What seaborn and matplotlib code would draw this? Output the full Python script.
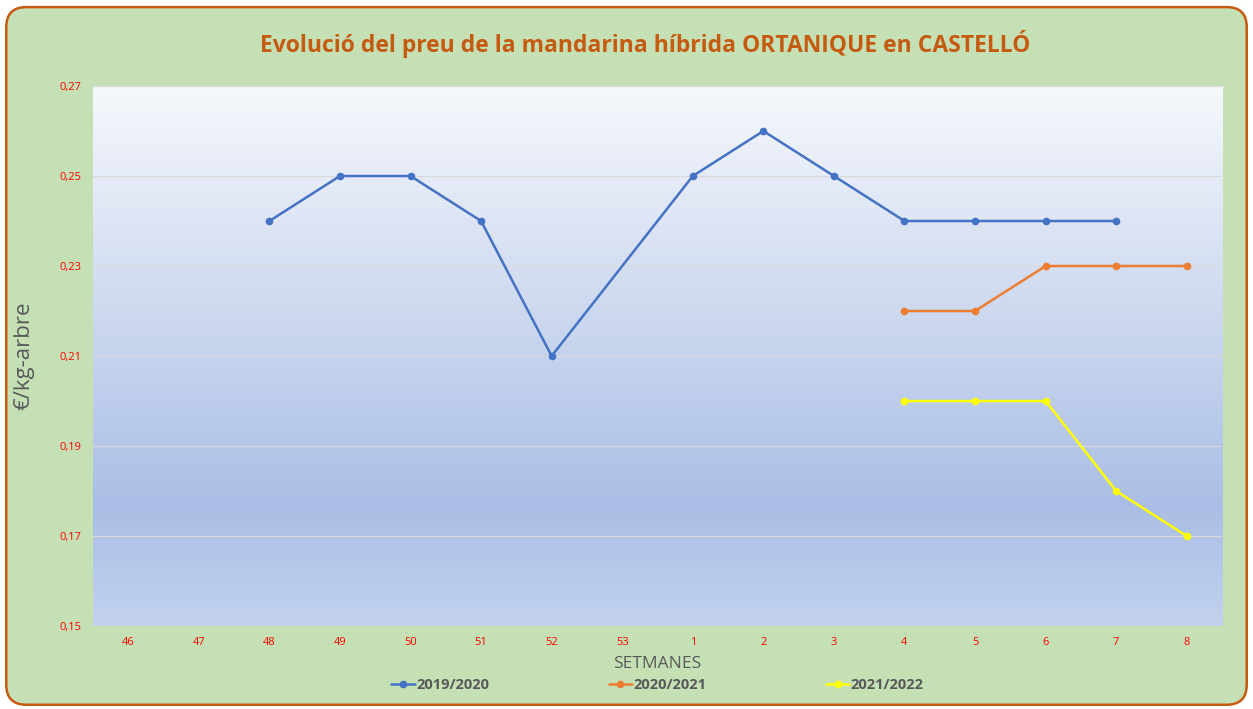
import numpy as np
import pandas as pd
import matplotlib
matplotlib.use('Agg')
import matplotlib.pyplot as plt
import seaborn as sns
from matplotlib.patches import FancyBboxPatch
from matplotlib.colors import LinearSegmentedColormap

# Data
weeks = ['46', '47', '48', '49', '50', '51', '52', '53', '1', '2', '3', '4', '5', '6', '7', '8']
s2019 = [np.nan, np.nan, 0.24, 0.25, 0.25, 0.24, 0.21, np.nan, 0.25, 0.26, 0.25, 0.24, 0.24, 0.24, 0.24, np.nan]
s2020 = [np.nan] * 11 + [0.22, 0.22, 0.23, 0.23, 0.23]
s2021 = [np.nan] * 11 + [0.20, 0.20, 0.20, 0.18, 0.17]
seasons = ['2019/2020', '2020/2021', '2021/2022']
colors = ['#4472C4', '#ED7D31', '#FFFF00']

df = pd.DataFrame({'pos': np.arange(len(weeks)), '2019/2020': s2019, '2020/2021': s2020, '2021/2022': s2021})
long_df = df.melt(id_vars='pos', var_name='season', value_name='price').dropna()

sns.set_style('white')
plt.rcParams['font.family'] = ['Open Sans', 'DejaVu Sans']

fig = plt.figure(figsize=(12.53, 7.09), dpi=100)
fig.patch.set_facecolor('white')
border = FancyBboxPatch((0.005, 0.006), 0.99, 0.984, boxstyle='round,pad=0,rounding_size=0.016',
                        transform=fig.transFigure, facecolor='#C5E0B4', edgecolor='#C55A11',
                        linewidth=1.8, mutation_aspect=1253 / 709, zorder=-10)
fig.patches.append(border)

ax = fig.add_axes([0.0742, 0.117, 0.9011, 0.7617])
ax.set_facecolor('none')

# background gradient of the plot area
grad_cmap = LinearSegmentedColormap.from_list('bg', [(0.0, '#F6F8FC'), (0.78, '#AABEE5'), (1.0, '#C2D2EE')])
grad = np.linspace(0, 1, 256).reshape(-1, 1)
ax.imshow(grad, aspect='auto', cmap=grad_cmap, extent=[-0.5, len(weeks) - 0.5, 0.15, 0.27],
          origin='upper', zorder=0)

sns.lineplot(data=long_df, x='pos', y='price', hue='season', hue_order=seasons,
             palette=colors, marker='o', markersize=5.5, markeredgewidth=0,
             linewidth=1.8, ax=ax, zorder=3)

ax.set_xlim(-0.5, len(weeks) - 0.5)
ax.set_ylim(0.15, 0.27)
ax.set_yticks([0.15, 0.17, 0.19, 0.21, 0.23, 0.25, 0.27])
ax.set_yticklabels([f'{v:.2f}'.replace('.', ',') for v in ax.get_yticks()])
ax.set_xticks(np.arange(len(weeks)))
ax.set_xticklabels(weeks)
ax.tick_params(axis='both', colors='#FF0000', labelsize=8, length=0, pad=8)
ax.yaxis.grid(True, color='#D9D9D9', linewidth=0.9, zorder=1)
ax.set_axisbelow(False)
for spine in ax.spines.values():
    spine.set_visible(False)

ax.set_xlabel('SETMANES', color='#595959', fontsize=12.5, labelpad=6)
ax.set_ylabel('€/kg-arbre', color='#595959', fontsize=16, labelpad=18)

fig.text(0.515, 0.938, 'Evolució del preu de la mandarina híbrida ORTANIQUE en CASTELLÓ',
         ha='center', va='center', color='#C55A11', fontsize=16.5, fontweight='bold')

handles, labels = ax.get_legend_handles_labels()
ax.legend(handles, labels, loc='center', bbox_to_anchor=(0.5, -0.11), ncol=3, frameon=False,
          columnspacing=8.2, handlelength=1.6, handletextpad=0.1,
          prop={'weight': 'bold', 'size': 10.5}, labelcolor='#595959')

fig.savefig('out.png', dpi=100)
